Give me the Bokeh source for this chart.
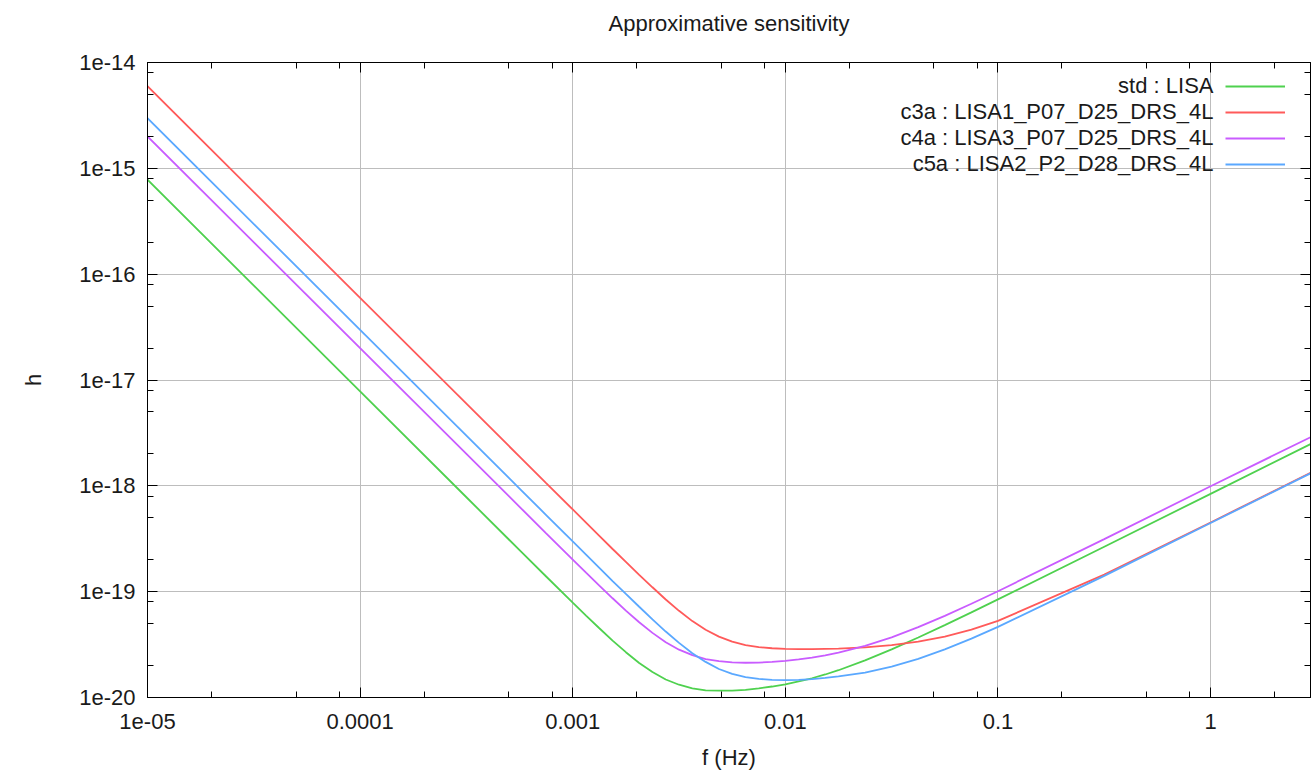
from bokeh.plotting import figure
from bokeh.models import (FixedTicker, LogAxis, Legend, LegendItem, CustomJSTickFormatter,
                          Range1d, Label)
from bokeh.embed import file_html
from bokeh.resources import INLINE

# ---- data ----
freq = [1e-05, 1e-04, 3.162e-04, 5.623e-04, 7.499e-04, 1.0e-03, 1.155e-03, 1.334e-03,
        1.540e-03, 1.778e-03, 2.054e-03, 2.371e-03, 2.738e-03, 3.162e-03, 3.652e-03,
        4.217e-03, 4.870e-03, 5.623e-03, 6.494e-03, 7.499e-03, 8.660e-03, 1.0e-02,
        1.155e-02, 1.334e-02, 1.540e-02, 1.778e-02, 2.371e-02, 3.162e-02, 4.217e-02,
        5.623e-02, 7.499e-02, 1.0e-01, 3.162e-01, 1.0, 2.951]

h_std = [7.80e-16, 7.80e-18, 7.80e-19, 2.468e-19, 1.391e-19, 7.87e-20, 5.94e-20, 4.51e-20,
         3.45e-20, 2.68e-20, 2.12e-20, 1.74e-20, 1.48e-20, 1.32e-20, 1.22e-20,
         1.17e-20, 1.16e-20, 1.16e-20, 1.18e-20, 1.22e-20, 1.27e-20, 1.33e-20,
         1.42e-20, 1.52e-20, 1.65e-20, 1.81e-20, 2.24e-20, 2.85e-20, 3.69e-20,
         4.83e-20, 6.38e-20, 8.46e-20, 2.66e-19, 8.40e-19, 2.48e-18]

h_c3a = [5.97e-15, 5.97e-17, 5.97e-18, 1.888e-18, 1.061e-18, 5.98e-19, 4.49e-19, 3.37e-19,
         2.53e-19, 1.91e-19, 1.44e-19, 1.10e-19, 8.44e-20, 6.59e-20, 5.27e-20,
         4.36e-20, 3.76e-20, 3.37e-20, 3.13e-20, 2.99e-20, 2.92e-20, 2.88e-20,
         2.86e-20, 2.86e-20, 2.88e-20, 2.90e-20, 2.98e-20, 3.12e-20, 3.37e-20,
         3.76e-20, 4.37e-20, 5.29e-20, 1.45e-19, 4.51e-19, 1.328e-18]

h_c4a = [2.00e-15, 2.00e-17, 2.00e-18, 6.33e-19, 3.56e-19, 2.01e-19, 1.51e-19, 1.14e-19,
         8.66e-20, 6.63e-20, 5.14e-20, 4.08e-20, 3.33e-20, 2.83e-20, 2.51e-20,
         2.31e-20, 2.21e-20, 2.15e-20, 2.13e-20, 2.14e-20, 2.17e-20, 2.22e-20,
         2.29e-20, 2.38e-20, 2.50e-20, 2.65e-20, 3.07e-20, 3.70e-20, 4.62e-20,
         5.91e-20, 7.68e-20, 1.01e-19, 3.14e-19, 9.90e-19, 2.88e-18]

h_c5a = [2.98e-15, 2.98e-17, 2.98e-18, 9.42e-19, 5.30e-19, 2.98e-19, 2.24e-19, 1.68e-19,
         1.26e-19, 9.52e-20, 7.20e-20, 5.47e-20, 4.20e-20, 3.28e-20, 2.62e-20,
         2.17e-20, 1.86e-20, 1.67e-20, 1.56e-20, 1.50e-20, 1.47e-20, 1.46e-20,
         1.47e-20, 1.49e-20, 1.53e-20, 1.58e-20, 1.72e-20, 1.96e-20, 2.32e-20,
         2.85e-20, 3.60e-20, 4.65e-20, 1.41e-19, 4.45e-19, 1.31e-18]

series_names = ["std : LISA", "c3a : LISA1_P07_D25_DRS_4L",
                "c4a : LISA3_P07_D25_DRS_4L", "c5a : LISA2_P2_D28_DRS_4L"]
series_values = [h_std, h_c3a, h_c4a, h_c5a]
series_colors = ["#4fd14f", "#ff5a5a", "#c95cff", "#5aa8ff"]

x_ticks = [1e-05, 1e-04, 1e-03, 1e-02, 1e-01, 1.0]
x_tick_labels = ["1e-05", "0.0001", "0.001", "0.01", "0.1", "1"]
y_ticks = [1e-20, 1e-19, 1e-18, 1e-17, 1e-16, 1e-15, 1e-14]
y_tick_labels = ["1e-20", "1e-19", "1e-18", "1e-17", "1e-16", "1e-15", "1e-14"]

x_minor = [k * 10.0 ** e for e in range(-5, 1) for k in (2, 5, 8)]
y_minor = [k * 10.0 ** e for e in range(-20, -14) for k in (2, 5, 8)]

title_text = "Approximative sensitivity"
x_label_text = "f (Hz)"
y_label_text = "h"

FONT = "Liberation Sans"
FS = "22px"
TXT = "#1a1a1a"

W, H = 1314, 772
ML, MR, MT, MB = 147, 4, 62, 75

# trailing empty line lifts the title away from the frame, as in the reference
p = figure(width=W, height=H, x_axis_type="log", y_axis_type="log",
           x_range=Range1d(1e-05, 2.951), y_range=Range1d(1e-20, 1e-14),
           output_backend="svg", toolbar_location=None, title=title_text + "\n",
           min_border_left=ML, min_border_right=MR, min_border_top=MT, min_border_bottom=MB)
p.background_fill_color = "white"
p.border_fill_color = "white"
p.outline_line_color = "black"
p.outline_line_width = 1

p.title.align = "center"
p.title.vertical_align = "bottom"
p.title.standoff = 3
p.title.text_font = FONT
p.title.text_font_size = FS
p.title.text_font_style = "normal"
p.title.text_color = TXT

fmt_code = """
for (let i = 0; i < vals.length; i++) {
  if (Math.abs(Math.log10(vals[i]) - Math.log10(tick)) < 1e-6) return labels[i];
}
return '';
"""


def style_axis(ax, ticks, minor, labels=None):
    ax.ticker = FixedTicker(ticks=ticks, minor_ticks=minor)
    ax.major_tick_in = 10
    ax.major_tick_out = 0
    ax.minor_tick_in = 6
    ax.minor_tick_out = 0
    ax.axis_line_color = "black"
    ax.major_tick_line_color = "black"
    ax.minor_tick_line_color = "black"
    if labels is not None:
        ax.formatter = CustomJSTickFormatter(args=dict(vals=ticks, labels=labels), code=fmt_code)
        ax.major_label_text_font = FONT
        ax.major_label_text_font_size = FS
        ax.major_label_text_color = TXT
        ax.axis_label_text_font = FONT
        ax.axis_label_text_font_size = FS
        ax.axis_label_text_font_style = "normal"
        ax.axis_label_text_color = TXT
    else:
        ax.major_label_text_font_size = "1px"
        ax.major_label_text_color = None
        ax.major_label_standoff = 0


style_axis(p.xaxis[0], x_ticks, x_minor, x_tick_labels)
style_axis(p.yaxis[0], y_ticks, y_minor, y_tick_labels)
p.xaxis.axis_label = x_label_text
p.yaxis.axis_label = y_label_text
p.xaxis.major_label_standoff = 16
p.xaxis.axis_label_standoff = 13
p.yaxis.major_label_standoff = 12
p.yaxis.axis_label_standoff = 30

# mirrored tick marks on top and right borders (gnuplot style)
top_ax = LogAxis()
style_axis(top_ax, x_ticks, x_minor)
p.add_layout(top_ax, "above")
right_ax = LogAxis()
style_axis(right_ax, y_ticks, y_minor)
p.add_layout(right_ax, "right")

p.xgrid.ticker = FixedTicker(ticks=x_ticks)
p.ygrid.ticker = FixedTicker(ticks=y_ticks)
p.xgrid.grid_line_color = "#bdbdbd"
p.ygrid.grid_line_color = "#bdbdbd"
p.xgrid.grid_line_width = 1
p.ygrid.grid_line_width = 1

items = []
for name, vals, col in zip(series_names, series_values, series_colors):
    r = p.line(freq, vals, line_color=col, line_width=1.8)
    items.append(LegendItem(label="", renderers=[r]))

# legend key lines (gnuplot style: text first, sample line at the right)
legend = Legend(items=items, location=(1078, 520))
legend.glyph_width = 60
legend.glyph_height = 26
legend.label_height = 26
legend.label_width = 0
legend.spacing = 0
legend.padding = 0
legend.margin = 0
legend.label_standoff = 0
legend.background_fill_alpha = 0
legend.border_line_alpha = 0
p.add_layout(legend, "center")

# legend texts, right-aligned before the sample lines (frame screen units)
row_top = 612
row_pitch = 26
for i, name in enumerate(series_names):
    p.add_layout(Label(x=1066, y=row_top - i * row_pitch, x_units="screen", y_units="screen",
                       text=name, text_align="right", text_baseline="middle",
                       text_font=FONT, text_font_size=FS, text_color=TXT))

open("out.html", "w").write(file_html(p, INLINE))
